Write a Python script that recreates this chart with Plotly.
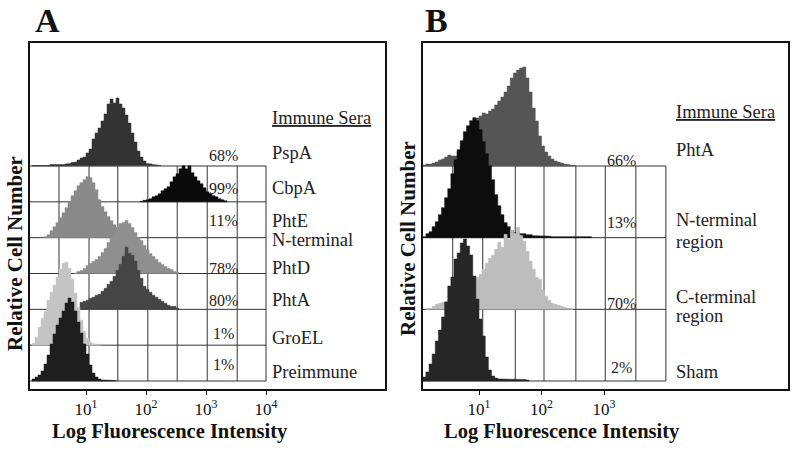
import plotly.graph_objects as go

# ---------------- data (log10 fluorescence bins of 0.05 decade, heights = relative cell counts)
BIN = 0.05

# Panel A
A_NAMES = ["PspA", "CbpA", "PhtE", "PhtD", "PhtA", "GroEL", "Preimmune"]
A_ROWS = [6, 5, 4, 3, 2, 1, 0]
A_START = [0.10, 1.90, 0.30, 0.80, 0.90, 0.10, 0.10]
A_PCT = ["68%", "99%", "11%", "78%", "80%", "1%", "1%"]
PSPA = [0.5, 0.5, 0.5, 0.5, 1, 0.5, 1.5, 1, 1, 1.5, 1.5, 2, 2.5, 3.5, 4, 6, 8, 9, 13, 17,
        27, 33, 38, 45, 52, 62, 67, 63, 68, 62, 58, 51, 43, 33, 24, 15, 9, 5, 2.5, 2, 1.5, 1, 0.5]
CBPA = [0.5, 1.5, 2, 3, 5, 6, 8, 11, 13, 15, 20, 25, 28, 33, 36, 33, 36, 29, 25, 21,
        18, 14, 10, 8, 6, 5, 3, 2, 1]
PHTE = [1, 3, 7, 11, 15, 20, 25, 30, 36, 42, 47, 52, 55, 58, 61, 60, 55, 48, 38, 31,
        26, 21, 17, 13, 10, 6, 3, 1.5, 1]
PHTD = [0.5, 2, 3, 5, 8, 10, 12, 14, 17, 21, 25, 31, 36, 41, 46, 50, 51, 53, 50, 46,
        41, 36, 33, 28, 24, 20, 17, 14, 11, 9, 7, 5, 4, 2, 1]
PHTA_A = [7, 8, 9, 11, 12, 14, 15, 18, 21, 25, 28, 33, 39, 45, 53, 62, 56, 54, 48, 39,
          31, 23, 20, 17, 14, 12, 10, 8, 6, 4, 3, 3, 1]
GROEL = [2, 8, 18, 27, 34, 45, 53, 60, 68, 76, 82, 83, 77, 66, 52, 38, 25, 14, 7, 3, 1.5, 1, 0.5]
PREIMMUNE = [2, 4, 6, 10, 17, 26, 37, 47, 56, 63, 70, 78, 83, 79, 70, 59, 48, 37, 27, 16,
             8, 4, 2, 1, 1, 1, 1, 0.5]
A_DATA = [PSPA, CBPA, PHTE, PHTD, PHTA_A, GROEL, PREIMMUNE]
A_COLORS = ["#333333", "#0a0a0a", "#8a8a8a", "#8f8f8f", "#454545", "#c4c4c4", "#1e1e1e"]

# Panel B
B_NAMES = ["PhtA", "N-terminal region", "C-terminal region", "Sham"]
B_ROWS = [3, 2, 1, 0]
B_START = [0.10, 0.10, 0.15, 0.10]
B_PCT = ["66%", "13%", "70%", "2%"]
PHTA_B = [1, 2, 2, 3, 4, 6, 7, 9, 11, 10, 10, 14, 20, 27, 34, 40, 45, 48, 50, 53,
          52, 55, 57, 61, 65, 69, 74, 80, 88, 93, 96, 98, 99, 88, 74, 58, 45, 30, 20, 14,
          10, 7, 5, 4, 3, 2, 1.5, 1, 0.5]
NTERM = [1, 4, 6, 11, 16, 23, 30, 40, 49, 64, 78, 88, 97, 106, 112, 117, 120, 117, 108, 96,
         84, 72, 58, 43, 32, 23, 15, 11, 7, 5, 5, 4, 4, 3, 3, 2, 2, 2, 2, 1.5,
         1.5, 1, 1, 1, 1, 0.5, 1, 0.5, 1, 0.5, 0.5, 0.5, 0.5, 1]
CTERM = [0.5, 1, 3, 5, 6, 7, 8, 9, 10, 12, 14, 16, 18, 21, 24, 28, 32, 35, 40, 46,
         51, 54, 60, 67, 62, 75, 70, 79, 76, 82, 74, 68, 58, 48, 40, 32, 30, 20, 13, 9,
         6, 5, 4, 3, 2, 1, 0.5]
SHAM = [4, 9, 17, 27, 40, 51, 64, 79, 95, 104, 122, 128, 138, 142, 135, 126, 105, 82, 62, 45,
        24, 11, 5, 3, 2, 2, 2, 2, 1.5, 2, 1.5, 2, 1.5, 1]
B_DATA = [PHTA_B, NTERM, CTERM, SHAM]
B_COLORS = ["#555555", "#0d0d0d", "#bdbdbd", "#262626"]

# grid (log10 positions of the vertical grid lines)
A_GRID = [0.55, 1.05, 1.53, 2.03, 2.52, 3.02, 3.52, 4.0]
B_GRID = [0.58, 1.06, 1.58, 2.04, 2.55, 3.02, 3.51, 3.99]
A_TICKS = [1, 2, 3, 4]
B_TICKS = [1, 2, 3]
TICK_TEXT = {1: "10<sup>1</sup>", 2: "10<sup>2</sup>", 3: "10<sup>3</sup>", 4: "10<sup>4</sup>"}

# ---------------- layout helpers
W, H = 800, 451
SERIF = "Liberation Serif"
INK = "#111111"
GRID_TOP = 215.0
ROW_A = GRID_TOP / 6
ROW_B = GRID_TOP / 3
A_XR = [0.0667, 5.983]
B_XR = [0.104, 5.944]
YR = [-8, 338]


def px(x, y):
    return x / W, 1 - y / H


def step_poly(start, heights, base):
    xs, ys = [start], [base]
    for i, h in enumerate(heights):
        x0 = start + i * BIN
        xs += [x0, x0 + BIN]
        ys += [base + h, base + h]
    xs.append(start + len(heights) * BIN)
    ys.append(base)
    xs.append(start)
    ys.append(base)
    return xs, ys


fig = go.Figure()
for data, start, row, col in zip(A_DATA, A_START, A_ROWS, A_COLORS):
    xs, ys = step_poly(start, data, row * ROW_A)
    fig.add_trace(go.Scatter(x=xs, y=ys, mode="lines", fill="toself", fillcolor=col,
                             line=dict(color=col, width=0.5), xaxis="x", yaxis="y",
                             hoverinfo="skip", showlegend=False))
for data, start, row, col in zip(B_DATA, B_START, B_ROWS, B_COLORS):
    xs, ys = step_poly(start, data, row * ROW_B)
    fig.add_trace(go.Scatter(x=xs, y=ys, mode="lines", fill="toself", fillcolor=col,
                             line=dict(color=col, width=0.5), xaxis="x2", yaxis="y2",
                             hoverinfo="skip", showlegend=False))

shapes = []
GL = dict(color="#333333", width=1)
for gx in A_GRID:
    shapes.append(dict(type="line", xref="x", yref="y", x0=gx, x1=gx, y0=0, y1=GRID_TOP,
                       line=GL, layer="below"))
for i in range(7):
    shapes.append(dict(type="line", xref="x", yref="y", x0=A_XR[0], x1=A_GRID[-1],
                       y0=i * ROW_A, y1=i * ROW_A, line=GL, layer="below"))
for gx in B_GRID:
    shapes.append(dict(type="line", xref="x2", yref="y2", x0=gx, x1=gx, y0=0, y1=GRID_TOP,
                       line=GL, layer="below"))
for i in range(4):
    shapes.append(dict(type="line", xref="x2", yref="y2", x0=B_XR[0], x1=B_GRID[-1],
                       y0=i * ROW_B, y1=i * ROW_B, line=GL, layer="below"))

ann = []


def add_text(text, x, y, size, xanchor="center", bold=False, angle=0, color=INK):
    fx, fy = px(x, y)
    ann.append(dict(text=f"<b>{text}</b>" if bold else text, x=fx, y=fy, xref="paper",
                    yref="paper", xanchor=xanchor, yanchor="middle", showarrow=False,
                    textangle=angle, font=dict(family=SERIF, size=size, color=color)))


# panel letters
add_text("A", 47, 21, 34, bold=True)
add_text("B", 436, 21, 34, bold=True)
# axis titles
add_text("Log Fluorescence Intensity", 170, 431, 20.5, bold=True)
add_text("Log Fluorescence Intensity", 562, 431, 20.5, bold=True)
add_text("Relative Cell Number", 15, 254, 21, bold=True, angle=-90)
add_text("Relative Cell Number", 408, 239, 21, bold=True, angle=-90)

# right-hand labels
A_LABELS = [("<u>Immune Sera</u>", 118), ("PspA", 153), ("CbpA", 188), ("PhtE", 221),
            ("N-terminal", 240), ("PhtD", 268), ("PhtA", 300), ("GroEL", 338),
            ("Preimmune", 372)]
for t, y in A_LABELS:
    add_text(t, 270, y, 18.5, xanchor="left", color="#222222")
B_LABELS = [("<u>Immune Sera</u>", 112), ("PhtA", 150), ("N-terminal", 220), ("region", 242),
            ("C-terminal", 297), ("region", 316), ("Sham", 372)]
for t, y in B_LABELS:
    add_text(t, 674, y, 18.5, xanchor="left", color="#222222")

# percentages
A_PCT_Y = [155, 188, 220, 268, 300, 333, 364]
for t, y in zip(A_PCT, A_PCT_Y):
    add_text(t, 223, y, 16, color="#222222")
B_PCT_Y = [160, 223, 303, 367]
for t, y in zip(B_PCT, B_PCT_Y):
    add_text(t, 621, y, 16, color="#222222")

ydom = [1 - 389 / H, 1 - 43 / H]
xaxis_common = dict(showgrid=False, zeroline=False, showline=True, mirror=True,
                    linecolor=INK, linewidth=1.5, ticks="outside", ticklen=4,
                    tickwidth=1.2, tickcolor=INK,
                    tickfont=dict(family=SERIF, size=17, color=INK), fixedrange=True)
yaxis_common = dict(showgrid=False, zeroline=False, showline=True, mirror=True,
                    linecolor=INK, linewidth=1.5, showticklabels=False, ticks="",
                    range=YR, domain=ydom, fixedrange=True)

fig.update_layout(
    width=W, height=H, margin=dict(l=0, r=0, t=0, b=0),
    paper_bgcolor="white", plot_bgcolor="white", showlegend=False,
    xaxis=dict(**xaxis_common, domain=[30 / W, 385 / W], range=A_XR,
               tickvals=A_TICKS, ticktext=[TICK_TEXT[t] for t in A_TICKS], anchor="y"),
    yaxis=dict(**yaxis_common, anchor="x"),
    xaxis2=dict(**xaxis_common, domain=[423 / W, 788 / W], range=B_XR,
                tickvals=B_TICKS, ticktext=[TICK_TEXT[t] for t in B_TICKS], anchor="y2"),
    yaxis2=dict(**yaxis_common, anchor="x2"),
    shapes=shapes, annotations=ann,
)

fig.write_html("out.html", config={"displayModeBar": False},
               post_script="document.body.style.margin='0';document.body.style.overflow='hidden';")
